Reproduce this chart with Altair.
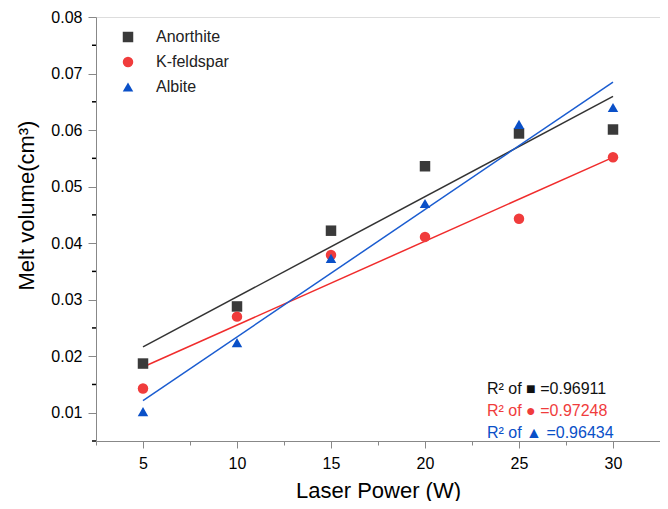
import altair as alt
import pandas as pd

power = [5, 10, 15, 20, 25, 30]
series_names = ["Anorthite", "K-feldspar", "Albite"]
anorthite = [0.0187, 0.0288, 0.0422, 0.0536, 0.0594, 0.0601]
kfeldspar = [0.0143, 0.0270, 0.0379, 0.0411, 0.0443, 0.0552]
albite = [0.0102, 0.0224, 0.0373, 0.0470, 0.0610, 0.0640]
colors = ["#3a3a3a", "#f03c3c", "#0a50c8"]
line_colors = ["#333333", "#f02c2c", "#1a5cd0"]
shapes = ["square", "circle", "triangle-up"]
r2_labels = ["R\u00b2 of \u25a0 =0.96911", "R\u00b2 of \u25cf =0.97248", "R\u00b2 of \u25b2 =0.96434"]
r2_colors = ["#111111", "#f03c3c", "#0a50c8"]

x_ticks = [2.5, 5, 7.5, 10, 12.5, 15, 17.5, 20, 22.5, 25, 27.5, 30, 32.5]
y_major = [0.01, 0.02, 0.03, 0.04, 0.05, 0.06, 0.07, 0.08]
y_minor = [0.005, 0.015, 0.025, 0.035, 0.045, 0.055, 0.065, 0.075]

rows = []
for name, vals in zip(series_names, [anorthite, kfeldspar, albite]):
    for p, v in zip(power, vals):
        rows.append({"power": p, "volume": v, "series": name})
df = pd.DataFrame(rows)

FONT = "Liberation Sans"

x_enc = alt.X(
    "power:Q",
    scale=alt.Scale(domain=[2.5, 32.5], nice=False, zero=False),
    axis=alt.Axis(
        title="Laser Power (W)",
        values=x_ticks,
        labelExpr="datum.value % 5 === 0 ? datum.label : ''",
        labelOverlap=False,
        tickSize={"condition": {"test": "datum.value % 5 === 0", "value": 7}, "value": 4},
        grid=False,
        labelFontSize=16,
        titleFontSize=22,
        titleFontWeight="normal",
        labelPadding=7,
        titlePadding=9,
    ),
)
y_scale = alt.Scale(domain=[0.005, 0.08], nice=False, zero=False)
y_enc = alt.Y(
    "volume:Q",
    scale=y_scale,
    axis=alt.Axis(
        title="Melt volume(cm\u00b3)",
        values=y_major,
        format=".2f",
        labelOverlap=False,
        tickSize=8,
        grid=False,
        labelFontSize=16,
        titleFontSize=22,
        titleFontWeight="normal",
        labelPadding=6,
        titlePadding=12,
        titleY=188,
    ),
)

color_scale = alt.Scale(domain=series_names, range=colors)
shape_scale = alt.Scale(domain=series_names, range=shapes)
leg = dict(title=None, orient="none", legendX=24, legendY=12,
           labelFontSize=16, labelOffset=20, rowPadding=9, padding=0,
           symbolSize=110, labelColor="#222222", labelFont=FONT)

points = alt.Chart(df).mark_point(filled=True, size=110, opacity=1).encode(
    x=x_enc,
    y=y_enc,
    color=alt.Color("series:N", scale=color_scale, sort=series_names, legend=alt.Legend(**leg)),
    shape=alt.Shape("series:N", scale=shape_scale, sort=series_names, legend=alt.Legend(**leg)),
)

line_layers = []
for name, lc in zip(series_names, line_colors):
    line_layers.append(
        alt.Chart(df).transform_filter(
            alt.datum.series == name
        ).transform_regression(
            "power", "volume", extent=[5, 30]
        ).mark_line(strokeWidth=1.5, color=lc).encode(
            x="power:Q",
            y="volume:Q",
        )
    )

minor_ticks = alt.Chart(pd.DataFrame({"v": y_minor})).mark_rule(
    color="black", strokeWidth=1.5, clip=False
).encode(
    y=alt.Y("v:Q", scale=y_scale),
    x=alt.value(-4),
    x2=alt.value(0),
)

r2_layers = []
for i, (lab, col) in enumerate(zip(r2_labels, r2_colors)):
    r2_layers.append(
        alt.Chart(pd.DataFrame({"t": [lab]})).mark_text(
            align="left", baseline="middle", fontSize=16, font=FONT, color=col
        ).encode(text="t:N", x=alt.value(391), y=alt.value(372 + 22 * i))
    )

chart = alt.layer(*line_layers, points, minor_ticks, *r2_layers).properties(
    width=564, height=424,
    autosize=alt.AutoSizeParams(type="none"),
    padding={"left": 88, "top": 9, "right": 0, "bottom": 60},
).configure_view(stroke="black", strokeWidth=1.5).configure_axis(
    domainColor="black", domainWidth=1.5, tickColor="black", tickWidth=1.5,
    labelColor="black", titleColor="black", labelFont=FONT, titleFont=FONT,
).configure(background="white")

chart.save("out.html", embed_options={"renderer": "svg", "actions": False})
